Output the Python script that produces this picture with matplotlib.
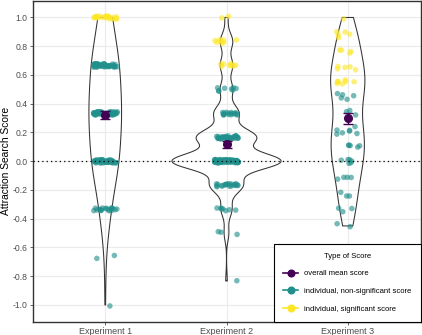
import numpy as np
import matplotlib
matplotlib.use("Agg")
import matplotlib.pyplot as plt
from matplotlib.lines import Line2D

plt.rcParams['font.family'] = ['Liberation Sans', 'DejaVu Sans']

# --- data ---
experiments = ["Experiment 1", "Experiment 2", "Experiment 3"]
y_ticks = [-1.0, -0.8, -0.6, -0.4, -0.2, 0.0, 0.2, 0.4, 0.6, 0.8, 1.0]
y_tick_labels = ["-1.0", "-0.8", "-0.6", "-0.4", "-0.2", "0.0",
                 "0.2", "0.4", "0.6", "0.8", "1.0"]

# experiments 1 and 2: scores sit on fixed steps, so keep counts per step
exp1_levels = [1.0, 0.667, 0.333, 0.0, -0.333, -0.667, -1.0]
exp1_counts = [22, 46, 52, 45, 18, 2, 1]
exp1_sig = [True, False, False, False, False, False, False]

exp2_levels = [1.0, 0.833, 0.667, 0.5, 0.333, 0.167, 0.0, -0.167, -0.333, -0.5, -0.833]
exp2_counts = [2, 8, 8, 8, 16, 38, 70, 21, 7, 3, 1]
exp2_sig = [True, True, True, False, False, False, False, False, False, False, False]

# experiment 3: individual scores
exp3_sig_scores = [1.0, 0.89, 0.90, 0.88, 0.87, 0.89, 0.78, 0.77, 0.77, 0.75,
                   0.66, 0.64, 0.66, 0.65, 0.64, 0.55, 0.56, 0.55, 0.56, 0.57,
                   0.55, 0.54]
exp3_ns_scores = [0.46, 0.45, 0.46, 0.44, 0.47, 0.34, 0.35, 0.33, 0.22, 0.23,
                  0.22, 0.21, 0.19, 0.19, 0.20, 0.12, 0.11, 0.11, 0.10, 0.10,
                  0.01, 0.0, 0.01, 0.0, 0.0, -0.01, -0.11, -0.12, -0.13, -0.11,
                  -0.23, -0.22, -0.24, -0.32, -0.33, -0.35, -0.43, -0.45]

mean_scores = [0.32, 0.118, 0.298]
mean_se = [0.028, 0.024, 0.037]

violin_bw = [0.2, 0.058, 0.14]

purple = "#440154"
teal = "#21908C"
yellow = "#FDE725"


def expand(levels, counts, sig):
    vals = np.repeat(levels, counts)
    flags = np.repeat(sig, counts)
    return vals, flags


groups = []
v, f = expand(exp1_levels, exp1_counts, exp1_sig)
groups.append((v, f))
v, f = expand(exp2_levels, exp2_counts, exp2_sig)
groups.append((v, f))
v = np.array(exp3_sig_scores + exp3_ns_scores)
f = np.array([True] * len(exp3_sig_scores) + [False] * len(exp3_ns_scores))
groups.append((v, f))

# --- violin densities (gaussian kde, trimmed to data range) ---
dens = []
for (vals, _), bw in zip(groups, violin_bw):
    grid = np.linspace(vals.min(), vals.max(), 512)
    d = np.exp(-0.5 * ((grid[:, None] - vals[None, :]) / bw) ** 2).sum(axis=1)
    d = d / (len(vals) * bw * np.sqrt(2 * np.pi))
    dens.append((grid, d))
dmax = max(d.max() for _, d in dens)

fig = plt.figure(figsize=(4.22, 3.35), dpi=100)
ax = fig.add_axes([32.5 / 422, 13.5 / 335, 388 / 422, 321 / 335])

ax.set_xlim(0.4, 3.6)
ax.set_ylim(-1.115, 1.118)
ax.set_yticks(y_ticks)
ax.set_yticklabels(y_tick_labels)
ax.set_xticks([1, 2, 3])
ax.set_xticklabels(experiments)
ax.grid(True, color="#EBEBEB", lw=0.8)
ax.set_axisbelow(True)
ax.tick_params(axis="both", colors="#4D4D4D", labelsize=6.2, length=2.2, width=0.6, pad=1.5)
ax.tick_params(axis="x", labelsize=6.5)
for s in ax.spines.values():
    s.set_color("#333333")
    s.set_linewidth(1.0)
ax.set_ylabel("Attraction Search Score", fontsize=7.4)
ax.yaxis.set_label_coords(-0.056, 0.5)

for i, (grid, d) in enumerate(dens):
    pos = i + 1
    hw = 0.45 * d / dmax
    ax.fill_betweenx(grid, pos - hw, pos + hw, facecolor="none",
                     edgecolor="#333333", lw=0.75, zorder=2)

rng = np.random.default_rng(11)
for i, (vals, flags) in enumerate(groups):
    pos = i + 1
    xs = pos + rng.uniform(-0.1, 0.1, len(vals))
    ys = vals + rng.uniform(-0.012, 0.012, len(vals))
    cols = np.where(flags, yellow, teal)
    ax.scatter(xs, ys, s=16, c=cols, alpha=0.62, lw=0, zorder=3)

ax.errorbar([1, 2, 3], mean_scores, yerr=mean_se, fmt="o", color=purple,
            ms=5.5, capsize=3.6, elinewidth=1.0, capthick=1.0, zorder=4)

ax.axhline(0, color="black", ls=(0, (1, 2.5)), lw=0.9, zorder=5)

handles = [
    Line2D([0], [0], color=purple, marker="o", ms=4.8, lw=1.2),
    Line2D([0], [0], color=teal, marker="o", ms=4.8, lw=1.2),
    Line2D([0], [0], color=yellow, marker="o", ms=4.8, lw=1.2),
]
labels = ["overall mean score", "individual, non-significant score",
          "individual, significant score"]
leg = ax.legend(handles, labels, title="Type of Score", loc="lower right",
                bbox_to_anchor=(1, 0), borderaxespad=0, fontsize=5.5,
                title_fontsize=5.5, frameon=True, fancybox=False,
                edgecolor="black", framealpha=1, borderpad=1.15,
                labelspacing=1.35, handlelength=2.0, handletextpad=0.8)
leg.get_frame().set_linewidth(0.8)
leg.set_zorder(6)

fig.savefig("out.png", dpi=100)
